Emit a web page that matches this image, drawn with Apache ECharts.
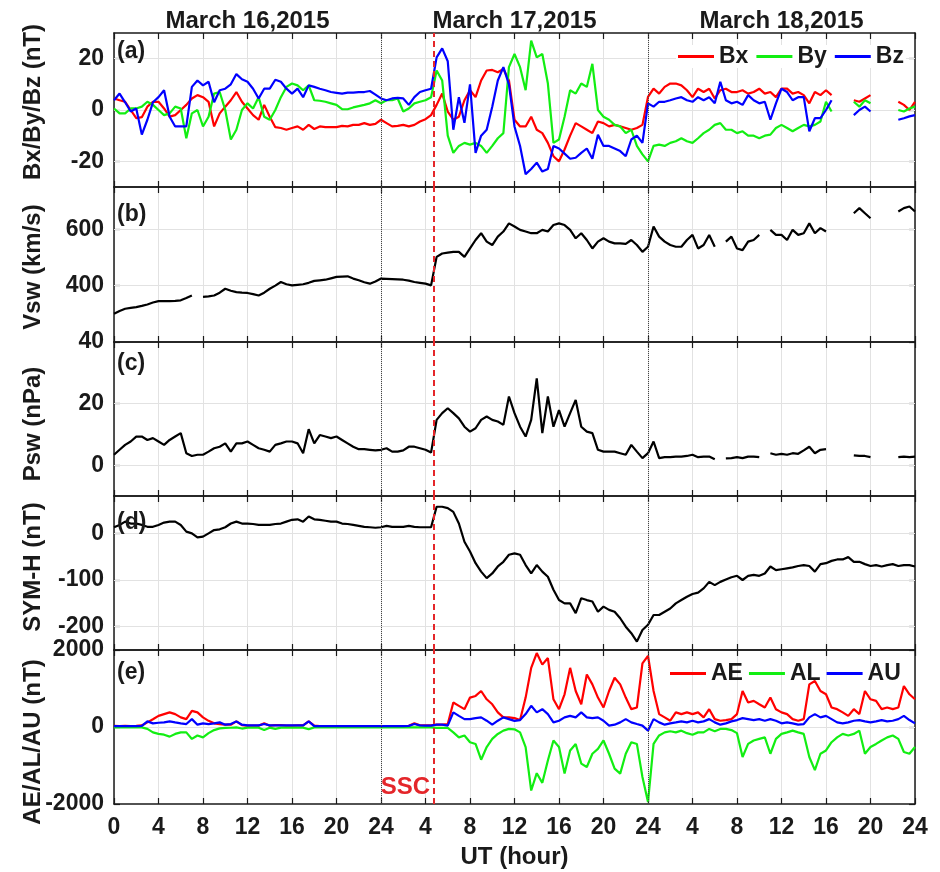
<!DOCTYPE html>
<html>
<head>
<meta charset="utf-8">
<script src="https://cdn.jsdelivr.net/npm/echarts@6/dist/echarts.min.js"></script>
<style>html,body{margin:0;padding:0;background:#fff}#chart{width:940px;height:872px}</style>
</head>
<body>
<div id="chart"></div>
<script>
// ---------------- DATA (sampled every 0.5 h, hours 0..72 over 16-18 March 2015) ----------------
const HOURS = Array.from({length: 145}, (_, i) => i / 2);
const DAY_TITLES = ['March 16,2015', 'March 17,2015', 'March 18,2015'];
const X_TICK_LABELS = ['0','4','8','12','16','20','24','4','8','12','16','20','24','4','8','12','16','20','24'];
const SSC_HOUR = 28.7;
const DAY_LINES = [24, 48];

const BX = [
 4.5, 3.8, 3.2, 0, -3.2, -2.8, 1.3, 3.2, 3.2, 0.6,
 -2.6, -2, 0, 2, 4.5, 5.8, 5, 3.2, -6.4, -1.3,
 1.3, 3.8, 7, 3.2, 0.6, -2, -3.8, 2, -2.6, -6.7,
 -7, -7.7, -7, -6.4, -7.7, -5.8, -7.4, -6.4, -6.7, -6.7,
 -6.7, -6.2, -6.4, -5.8, -5.8, -5.1, -5.8, -5.4, -3.8, -5.1,
 -6.4, -6.2, -5.8, -6.4, -5.8, -4.5, -3.6, -2, 2, 6.4,
 -0.6, -3.8, -2.6, 3.8, 7.7, 5, 11.5, 15.4, 15.6, 14.7,
 16, 11.5, -3.8, -6.4, -6.4, -2.6, -7.7, -9, -12.8, -18,
 -20, -15.4, -10, -5.1, -6.4, -7.7, -9, -4.5, -5.1, -6.4,
 -5.8, -6.4, -7, -7.7, -7, -5.8, 5.1, 8.3, 6.4, 9,
 10.3, 10.3, 9.6, 7.7, 5, 8.3, 7, 8.3, 4.5, 7.7,
 8.3, 7, 7, 7.7, 6.4, 7, 8.3, 6.4, 7, 5,
 8.3, 8.3, 6.4, 7, 5.8, 2.6, 7, 5.8, 7.7, 5.8,
 null, null, null, 3.8, 3.2, 4.5, 5.8, null, null, null,
 null, 3.2, 2, 0, 3.2
];
const BY = [
 0.6, -1.3, -1.3, 0.6, 0.6, 1.3, 3.2, 2, 0, -2,
 -1.3, 1.3, 0.6, -11, -1.3, 0, -6.4, -2.6, 6.4, 7,
 0, -11.5, -7.7, 0, 2.6, 0.6, 5, -2.6, -3.8, 0,
 5, 9, 10.3, 9.6, 7.7, 9.6, 3.8, 3.6, 3.2, 2.6,
 2, 0.3, 0.3, 1, 1.5, 2, 2.6, 3.8, 2.6, 3.8,
 3.8, 4.5, -0.6, 0.6, 2.6, 3.2, 3.8, 5, 15.4, 11.5,
 -10, -16.7, -14, -12.8, -13.5, -12.8, -14, -16.7, -14, -11,
 -9, 16.7, 21.8, 16.7, 7.7, 27, 20.5, 21.8, 10.3, -12.8,
 -11.5, -2.6, 7.7, 6.4, 10.3, 9, 18, 0, -2.6, -3.8,
 -5.8, -6.4, -9, -7.7, -14, -17.3, -20, -14, -13.5, -14,
 -12.8, -12.2, -11, -12.2, -12.8, -11, -9, -7.7, -5.8, -5.1,
 -7.7, -7.7, -9, -8.3, -10, -10, -11, -10, -9.6, -7,
 -5.8, -7, -8.3, -7, -5.8, -6.4, -5.8, -4.5, 3.2, -0.6,
 null, null, null, 3.2, 1.3, 3.8, 2.6, null, null, null,
 null, 0, -0.6, 0.6, 1.3
];
const BZ = [
 3.8, 6.4, 3, -0.6, 0.6, -9.6, -3.8, 3, 5, 7.7,
 -2.6, -6.4, -6.4, -6.4, 9, 11.5, 9.6, 11, 3, 7.7,
 8.3, 10, 14, 12, 11, 8.3, 4.5, 8.3, 8.3, 11.8,
 11, 8.3, 6.4, 8.3, 5, 9.6, 9, 8.3, 7.7, 7,
 6.7, 6.4, 6.8, 6.8, 7, 7, 7.4, 6, 4.5, 3.8,
 4.5, 4.7, 4.5, 2, 5, 7, 7.7, 8.3, 20.5, 24,
 19, -7.7, 5, -5, 10, -16.7, -10, -7.7, 1.3, 11.5,
 16.7, 10, -6.4, -14, -25, -23, -20.5, -24, -23, -14,
 -15, -17, -19, -18.6, -16.7, -15, -19, -9.6, -14, -14,
 -15, -16, -18, -11.5, -10, -12.8, 2.6, 1.3, 3.2, 3.2,
 3.8, 4.5, 5, 3.8, 3.2, 5, 3.8, 5, 2.6, 11,
 3.8, 2.6, 3.2, 2, 5.8, 3.8, 2.6, 3.2, -3.8, 2.6,
 8.3, 7, 3.8, 5, 5, -8.3, -3.2, -3.2, 0, 3.8,
 null, null, null, -2, 0, 1.3, -0.6, null, null, null,
 null, -3.8, -3.2, -2.5, -2
];
const VSW = [
 300, 310, 318, 321, 324, 328, 333, 340, 345, 345,
 345, 346, 348, 356, 365, null, 360, 362, 365, 375,
 389, 382, 377, 375, 374, 370, 365, 375, 389, 400,
 413, 405, 401, 403, 405, 410, 417, 419, 421, 426,
 431, 432, 433, 425, 419, 412, 407, 415, 425, 424,
 423, 422, 421, 418, 413, 410, 407, 401, 502, 514,
 517, 520, 520, 502, 532, 562, 586, 556, 544, 574,
 592, 621, 610, 598, 592, 586, 586, 598, 592, 615,
 621, 615, 598, 568, 586, 562, 532, 556, 568, 556,
 550, 550, 548, 562, 544, 520, 538, 610, 574, 556,
 544, 538, 538, 562, 580, 532, 544, 580, 538, null,
 556, 574, 532, 526, 556, 562, 580, null, 598, 580,
 580, 562, 598, 580, 586, 621, 586, 604, 592, null,
 null, null, null, 657, 675, 657, 639, null, null, null,
 null, 663, 675, 681, 663
];
const PSW = [
 3.4, 5, 6.6, 7.7, 9.3, 9.3, 8.2, 8.8, 7.7, 6.6,
 8.2, 9.3, 10.4, 3.9, 3, 3.4, 3.4, 4.4, 5.5, 6,
 7.1, 4.4, 7.1, 7.1, 7.7, 6.6, 5.5, 5, 4.4, 6.6,
 7.1, 7.7, 7.7, 7.1, 3.9, 11.7, 7.1, 9.8, 9.3, 8.8,
 9.3, 8.2, 7.1, 6, 5.2, 5.2, 5, 4.8, 5, 5.5,
 4.4, 4.4, 4.8, 6, 6, 5.5, 5, 4.1, 14.7, 16.9,
 18.5, 16.9, 15.2, 12.5, 10.9, 12, 14.7, 15.8, 14.7, 14.2,
 13.1, 22.3, 16.9, 12.5, 9.3, 14.7, 28.2, 10.4, 22.3, 12.5,
 17.9, 12.5, 16.9, 21.2, 12.5, 10.9, 10.4, 5, 4.4, 4.4,
 4.4, 3.9, 3.4, 6.6, 4.4, 2.3, 3.9, 7.7, 2.3, 2.6,
 2.6, 2.8, 2.8, 3, 3.4, 2.6, 2.8, 2.8, 1.9, null,
 2.2, 2.3, 2.6, 2.3, 2.8, 2.8, 2.6, null, 3.9, 3.4,
 3.7, 3.4, 3.9, 3.7, 4.8, 6, 3.9, 5, 5.2, null,
 null, null, null, 3.2, 3, 3, 2.6, null, null, null,
 null, 2.6, 2.8, 2.6, 2.8
];
const SYMH = [
 13, 18, 25, 21, 21, 18, 14, 14, 18, 23,
 25, 25, 18, 3.6, 0, -8.6, -7, 0, 7, 8.6,
 13, 21, 25, 21, 21, 20, 18, 18, 18, 20,
 21, 25, 29, 30, 25, 36, 30, 29, 27, 25,
 25, 21, 20, 18, 16, 14, 13, 12, 13, 16,
 14, 14, 14, 16, 14, 13, 13, 13, 57, 57,
 54, 46, 21, -18, -39, -64, -82, -96, -86, -71,
 -61, -46, -43, -46, -68, -86, -68, -82, -93, -121,
 -143, -150, -150, -171, -139, -143, -146, -168, -157, -164,
 -168, -182, -200, -214, -232, -207, -196, -175, -175, -168,
 -161, -150, -143, -136, -130, -127, -118, -104, -111, -104,
 -99, -94, -91, -100, -91, -89, -91, -86, -71, -79,
 -77, -75, -73, -70, -68, -70, -82, -66, -64, -59,
 -56, -56, -51, -61, -61, -66, -70, -68, -71, -68,
 -66, -70, -68, -68, -71
];
const AE = [
 30, 25, 30, 25, 30, 40, 120, 200, 290, 335,
 380, 335, 250, 205, 420, 380, 250, 160, 95, 77,
 60, 60, 146, 50, 35, 35, 35, 95, 35, 50,
 50, 35, 35, 43, 43, 146, 35, 25, 20, 20,
 20, 20, 20, 20, 20, 20, 20, 20, 20, 20,
 20, 20, 25, 30, 95, 45, 43, 40, 60, 60,
 77, 635, 550, 463, 764, 807, 935, 720, 590, 380,
 250, 250, 230, 180, 764, 1536, 1920, 1620, 1790, 720,
 463, 850, 1536, 935, 590, 1364, 1107, 764, 506, 935,
 1278, 1107, 764, 463, 506, 1650, 1850, 935, 335, 250,
 163, 380, 335, 380, 335, 380, 250, 463, 205, 163,
 180, 205, 335, 935, 635, 678, 590, 506, 764, 463,
 380, 335, 205, 163, 205, 1107, 1193, 935, 850, 506,
 463, 380, 290, 463, 335, 935, 720, 678, 463, 506,
 463, 506, 1064, 850, 720
];
const AL = [
 -10, -10, -10, -10, -10, -10, -50, -140, -180, -200,
 -250, -180, -140, -140, -310, -220, -270, -160, -80, -35,
 -25, -20, -10, -40, -17, -17, -17, -80, -17, -50,
 -17, -17, -17, -17, -17, -60, -10, -10, -10, -10,
 -10, -10, -10, -10, -10, -10, -10, -10, -10, -10,
 -10, -10, -10, -10, -10, -10, -10, -10, -25, -25,
 -25, -140, -270, -220, -395, -440, -850, -520, -310, -180,
 -95, -50, -60, -140, -520, -1650, -1200, -1450, -870, -350,
 -520, -1210, -610, -440, -950, -1040, -695, -570, -350, -695,
 -1080, -1210, -695, -395, -440, -1300, -1950, -440, -220, -140,
 -110, -140, -95, -160, -200, -140, -140, -50, -110, -50,
 -50, -80, -160, -780, -440, -350, -310, -270, -695, -310,
 -180, -140, -95, -140, -180, -780, -1120, -695, -610, -395,
 -270, -180, -220, -180, -95, -695, -520, -440, -350, -270,
 -220, -310, -650, -695, -520
];
const AU = [
 25, 25, 25, 25, 25, 30, 146, 95, 110, 120,
 146, 120, 95, 77, 205, 60, 95, 77, 95, 120,
 60, 77, 146, 60, 43, 43, 43, 77, 43, 43,
 43, 43, 43, 43, 43, 146, 25, 25, 25, 25,
 25, 25, 25, 25, 25, 25, 25, 25, 25, 25,
 25, 25, 25, 30, 77, 43, 35, 35, 60, 60,
 35, 380, 290, 205, 205, 230, 250, 163, 60, 163,
 250, 205, 160, 180, 335, 550, 380, 463, 335, 120,
 163, 250, 290, 250, 380, 250, 230, 250, 163, 35,
 60, 120, 205, 120, 77, 35, -95, 205, 120, 60,
 95, 120, 146, 120, 163, 120, 146, 205, 120, 60,
 95, 146, 180, 230, 205, 180, 205, 163, 205, 163,
 95, 120, 95, 60, 77, 250, 335, 250, 290, 205,
 120, 95, 120, 163, 180, 146, 120, 146, 180, 146,
 163, 205, 290, 180, 95
];

// Y-axis ranges and tick labels per panel
const Y_MIN = [-30, 200, -10, -250, -2000];
const Y_MAX = [30, 750, 40, 80, 2000];
const Y_TICKS = [[-20, 0, 20], [400, 600], [0, 20, 40], [-200, -100, 0], [-2000, 0, 2000]];
const Y_GRIDLINES = [[-20, 0, 20], [400, 600], [0, 20], [-200, -100, 0], [0]];
const Y_NAMES = ['Bx/By/Bz (nT)', 'Vsw (km/s)', 'Psw (nPa)', 'SYM-H (nT)', 'AE/AL/AU (nT)'];
const PANEL_TAGS = ['(a)', '(b)', '(c)', '(d)', '(e)'];

// ---------------- LAYOUT / STYLE ----------------
const FONT = '"Liberation Sans", Arial, Helvetica, sans-serif';
const INK = '#1a1a1a';
const GRID_COLOR = '#e2e2e2';
const RED = '#ff0000', GREEN = '#12ee12', BLUE = '#0000ff';
const PLOT_LEFT = 114, PLOT_WIDTH = 801;
const GRID_TOP = [33, 187, 342, 496, 650];
const GRID_H = [154, 155, 154, 154, 154];
const TAG_Y = [52, 215, 364, 523, 673];
const NAME_Y = [102, 267, 424, 567, 742];
const DAY_X = [247.5, 514.5, 781.5];

const PANELS = [
  [{name: 'Bx', data: BX, color: RED}, {name: 'By', data: BY, color: GREEN}, {name: 'Bz', data: BZ, color: BLUE}],
  [{name: 'Vsw', data: VSW, color: '#000'}],
  [{name: 'Psw', data: PSW, color: '#000'}],
  [{name: 'SYM-H', data: SYMH, color: '#000'}],
  [{name: 'AE', data: AE, color: RED}, {name: 'AL', data: AL, color: GREEN}, {name: 'AU', data: AU, color: BLUE}]
];

const pair = arr => arr.map((v, i) => [HOURS[i], v]);
const tickText = {fontFamily: FONT, fontWeight: 'bold', fontSize: 23, color: INK};
const axisLine = {show: true, onZero: false, lineStyle: {color: INK, width: 1.5}};

const grid = [], xAxis = [], yAxis = [], series = [];
for (let i = 0; i < 5; i++) {
  const last = i === 4;
  grid.push({left: PLOT_LEFT, width: PLOT_WIDTH, top: GRID_TOP[i], height: GRID_H[i],
             containLabel: false, outerBoundsMode: 'none'});
  xAxis.push({
    type: 'value', gridIndex: i, position: 'bottom', min: 0, max: 72, interval: 4,
    axisLine: axisLine,
    axisTick: {show: true, inside: true, length: 6, lineStyle: {color: INK, width: 1.2}},
    axisLabel: Object.assign({show: last, margin: 12,
      formatter: v => X_TICK_LABELS[Math.round(v / 4)]}, tickText),
    splitLine: {show: true, lineStyle: {color: GRID_COLOR, width: 1}},
    name: last ? 'UT (hour)' : '', nameLocation: 'middle', nameGap: 41,
    nameTextStyle: {fontFamily: FONT, fontWeight: 'bold', fontSize: 24, color: INK}
  });
  xAxis.push({
    type: 'value', gridIndex: i, position: 'top', min: 0, max: 72, interval: 4,
    axisLine: axisLine,
    axisTick: {show: true, inside: true, length: 6, lineStyle: {color: INK, width: 1.2}},
    axisLabel: {show: false}, splitLine: {show: false}
  });
  yAxis.push({
    type: 'value', gridIndex: i, position: 'left', min: Y_MIN[i], max: Y_MAX[i],
    axisLine: axisLine,
    axisTick: {show: true, inside: true, length: 6, customValues: Y_TICKS[i], lineStyle: {color: INK, width: 1.2}},
    axisLabel: Object.assign({show: true, margin: 10, customValues: Y_TICKS[i], formatter: v => String(v)}, tickText),
    splitLine: {show: false}
  });
  yAxis.push({
    type: 'value', gridIndex: i, position: 'right', min: Y_MIN[i], max: Y_MAX[i],
    axisLine: axisLine,
    axisTick: {show: true, inside: true, length: 6, customValues: Y_TICKS[i], lineStyle: {color: INK, width: 1.2}},
    axisLabel: {show: false}, splitLine: {show: false}
  });
  // horizontal grid lines (kept under the data)
  series.push({
    type: 'line', name: 'grid' + i, xAxisIndex: 2 * i, yAxisIndex: 2 * i, data: [], silent: true, z: 1,
    markLine: {silent: true, z: 1, symbol: ['none', 'none'], label: {show: false}, animation: false,
      lineStyle: {color: GRID_COLOR, width: 1, type: 'solid'},
      data: Y_GRIDLINES[i].map(v => ({yAxis: v}))}
  });
  PANELS[i].forEach(s => {
    series.push({
      type: 'line', name: s.name, xAxisIndex: 2 * i, yAxisIndex: 2 * i, data: pair(s.data),
      symbol: 'none', showSymbol: false, connectNulls: false, z: 3,
      lineStyle: {color: s.color, width: 2.2}, itemStyle: {color: s.color}
    });
  });
  // day boundaries and SSC line
  series.push({
    type: 'line', name: 'marks' + i, xAxisIndex: 2 * i, yAxisIndex: 2 * i, data: [], silent: true, z: 5,
    markLine: {silent: true, z: 5, symbol: ['none', 'none'], label: {show: false}, animation: false,
      data: DAY_LINES.map(h => ({xAxis: h, lineStyle: {color: '#444', width: 1, type: 'dotted'}}))
        .concat([{xAxis: SSC_HOUR, lineStyle: {color: '#e4262a', width: 2, type: [6, 4]}}])}
  });
}

const legendText = {fontFamily: FONT, fontWeight: 'bold', fontSize: 23, color: INK};
const legend = [
  {data: ['Bx', 'By', 'Bz'], left: 676, top: 45, icon: 'rect', itemWidth: 36, itemHeight: 3, itemGap: 8,
   padding: [0, 2, 0, 2], backgroundColor: '#fff', z: 10, selectedMode: false, textStyle: legendText},
  {data: ['AE', 'AL', 'AU'], left: 670, top: 662, icon: 'rect', itemWidth: 36, itemHeight: 3, itemGap: 6,
   padding: 0, z: 10, selectedMode: false, textStyle: legendText}
];

const txt = (text, x, y, opts) => Object.assign({
  type: 'text', x: x, y: y, silent: true, z: 20,
  style: Object.assign({text: text, font: 'bold 24px ' + FONT, fill: INK,
    align: 'center', verticalAlign: 'middle', textAlign: 'center', textVerticalAlign: 'middle'}, (opts && opts.style) || {})
}, (opts && opts.el) || {});

const graphic = [];
DAY_TITLES.forEach((t, k) => graphic.push(txt(t, DAY_X[k], 21)));
PANEL_TAGS.forEach((t, k) => graphic.push(txt(t, 117, TAG_Y[k],
  {style: {align: 'left', textAlign: 'left', font: 'bold 23px ' + FONT}})));
Y_NAMES.forEach((t, k) => graphic.push(txt(t, 33, NAME_Y[k], {el: {rotation: Math.PI / 2}})));
graphic.push(txt('SSC', 430, 787, {style: {align: 'right', textAlign: 'right', fill: '#e4262a'}}));

const chart = echarts.init(document.getElementById('chart'), null, {renderer: 'canvas'});
chart.setOption({
  animation: false,
  backgroundColor: '#fff',
  grid: grid, xAxis: xAxis, yAxis: yAxis, series: series,
  legend: legend, graphic: graphic
});
</script>
</body>
</html>
